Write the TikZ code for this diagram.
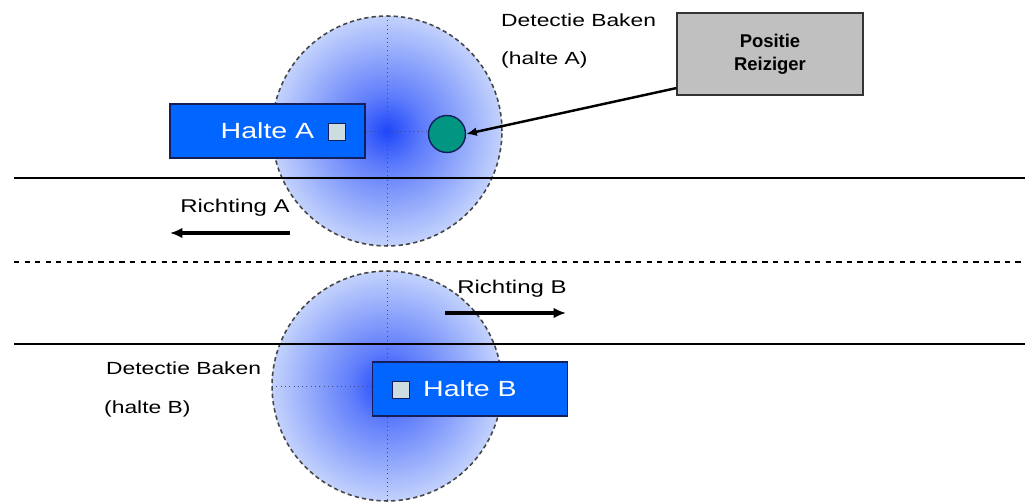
\documentclass[tikz,border=0pt]{standalone}
\usepackage{fontspec}
\setmainfont[FakeStretch=1.3]{Liberation Sans}
\newfontfamily\smalsans{Liberation Sans}
\usetikzlibrary{arrows,arrows.meta}
\definecolor{haltblue}{RGB}{0, 102, 255}
\definecolor{haltborder}{RGB}{20, 30, 90}
\definecolor{bakenin}{RGB}{30, 70, 250}
\definecolor{bakenout}{RGB}{195, 210, 252}
\definecolor{reizteal}{RGB}{0, 150, 130}
\definecolor{positiegray}{RGB}{192, 192, 192}
\definecolor{stopfill}{RGB}{205, 220, 225}
\pgfdeclareradialshading{bakenshade}{\pgfpoint{0bp}{0bp}}{color(0bp)=(bakenin); color(8bp)=(bakenin!60!bakenout); color(25bp)=(bakenout); color(50bp)=(bakenout)}

\begin{document}
\begin{tikzpicture}[x=0.02cm, y=-0.02cm,
    halte/.style={draw=haltborder, line width=1pt, fill=haltblue, text=white, font=\fontsize{12.5}{15}\selectfont,
                  minimum width=3.9cm, minimum height=1.08cm, inner sep=0pt},
    stopje/.style={draw=haltborder, line width=0.9pt, fill=stopfill, minimum size=0.34cm, inner sep=0pt},
    baken/.style={circle, draw=gray!55!black, dash pattern=on 2.4pt off 1.8pt, line width=0.9pt, shading=bakenshade,
                  minimum size=4.6cm, inner sep=0pt, outer sep=0pt},
    aslijn/.style={draw=haltborder!80, dotted, line width=0.45pt},
    bijschrift/.style={anchor=west, font=\fontsize{10}{12}\selectfont},
    richting/.style={-{Latex[length=7pt,width=6pt]}, line width=2.2pt}]
    \useasboundingbox[fill=white] (0,0) rectangle (1025,502);
    \clip (0,0) rectangle (1025,502);

    % detectiegebieden
    \node[baken] (bakenA) at (387,131) {};
    \node[baken] (bakenB) at (387,386) {};
    \draw[aslijn] (bakenA.north) -- (bakenA.south);
    \draw[aslijn] (bakenB.north) -- (bakenB.south);

    % weg
    \draw[line width=0.6pt] (14,178) -- (1025,178);
    \draw[line width=0.6pt, dashed] (14,262) -- (1025,262);
    \draw[line width=0.6pt] (14,344) -- (1025,344);

    % haltes
    \node[halte] (halteA) at (267.5,131) {Halte A};
    \node[stopje] at (337,132) {};
    \node[halte] (halteB) at (470,389) {Halte B};
    \node[stopje] at (401,390) {};

    \node[circle, draw=haltborder, line width=0.8pt, fill=reizteal, minimum size=0.74cm, inner sep=0pt] (reiziger) at (447,134) {};
    \draw[aslijn] (halteA.east) -- (halteA.east -| reiziger.west);
    \draw[aslijn] (bakenB.west) -- (bakenB.west -| halteB.west);

    \node[draw=black!80, line width=0.8pt, fill=positiegray, minimum width=3.72cm, minimum height=1.64cm,
          align=center, font=\smalsans\bfseries\fontsize{10.5}{13}\selectfont] (positie) at (770,54) {Positie\\Reiziger};
    \draw[-{Latex[length=6pt,width=5pt]}, line width=1.4pt] (positie.200) -- (reiziger.east);

    \node[bijschrift] (bakenAtxt) at (495,20) {Detectie Baken};
    \node[bijschrift] (bakenAsub) at (495,60) {(halte A)};
    \node[bijschrift] (bakenBtxt) at (100,368) {Detectie Baken};
    \node[bijschrift] (bakenBsub) at (98,409) {(halte B)};

    % rijrichtingen
    \node[font=\fontsize{10.5}{12}\selectfont] (richtA) at (235,208) {Richting A};
    \coordinate (richtAvan) at (290,233);
    \coordinate (richtAnaar) at (170,233);
    \draw[richting] (richtAvan) -- (richtAnaar);
    \node[font=\fontsize{10.5}{12}\selectfont] (richtB) at (512,289) {Richting B};
    \coordinate (richtBvan) at (445,313);
    \coordinate (richtBnaar) at (566,313);
    \draw[richting] (richtBvan) -- (richtBnaar);
\end{tikzpicture}
\end{document}
